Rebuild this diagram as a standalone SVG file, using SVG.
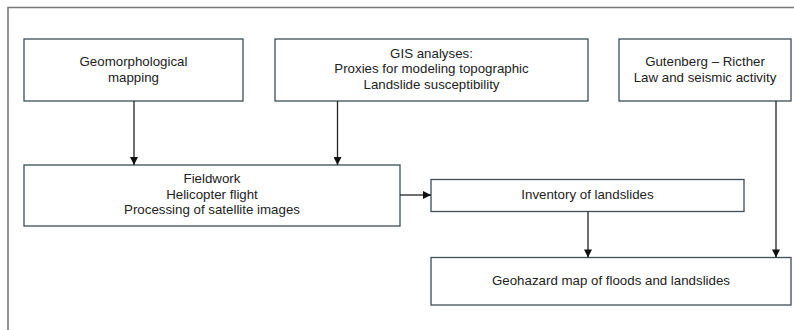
<svg xmlns="http://www.w3.org/2000/svg" width="794" height="330" viewBox="0 0 794 330">
<style>
.box{fill:#fff;stroke:#3f4f55;stroke-width:1.3}
.t{font-family:"Liberation Sans",Arial,sans-serif;font-size:13.3px;fill:#222;text-anchor:middle}
.c{stroke:#222;stroke-width:1.3;fill:none}
</style>
<defs>
<marker id="ah" viewBox="0 0 10 10" refX="10" refY="5" markerWidth="9" markerHeight="8" markerUnits="userSpaceOnUse" orient="auto">
<path d="M0,0 L10,5 L0,10 Z" fill="#111"/>
</marker>
</defs>
<rect width="794" height="330" fill="#fff"/>
<path d="M8,330 V7.5 H794" fill="none" stroke="#7a7a7a" stroke-width="1.6"/>
<g id="n1"><rect class="box" x="24" y="39" width="219" height="62"/>
<text class="t" x="133.5" y="66">Geomorphological</text><text class="t" x="133.5" y="82">mapping</text></g>
<g id="n2"><rect class="box" x="275" y="39" width="313" height="62"/>
<text class="t" x="431.5" y="57.5">GIS analyses:</text><text class="t" x="431.5" y="73">Proxies for modeling topographic</text><text class="t" x="431.5" y="88.5">Landslide susceptibility</text></g>
<g id="n3"><rect class="box" x="619" y="39" width="172" height="62"/>
<text class="t" x="705" y="65.5">Gutenberg – Ricther</text><text class="t" x="705" y="82">Law and seismic activity</text></g>
<g id="n4"><rect class="box" x="24" y="165" width="376" height="61"/>
<text class="t" x="212" y="183">Fieldwork</text><text class="t" x="212" y="198.5">Helicopter flight</text><text class="t" x="212" y="214">Processing of satellite images</text></g>
<g id="n5"><rect class="box" x="431" y="179.5" width="313" height="32"/>
<text class="t" x="587.5" y="198.5">Inventory of landslides</text></g>
<g id="n6"><rect class="box" x="431" y="257.5" width="360" height="47.5"/>
<text class="t" x="611" y="284.5">Geohazard map of floods and landslides</text></g>
<g id="connectors">
<path class="c" d="M134,101 V165" marker-end="url(#ah)"/>
<path class="c" d="M337.5,101 V165" marker-end="url(#ah)"/>
<path class="c" d="M400,195 H431" marker-end="url(#ah)"/>
<path class="c" d="M588,211.5 V257.5" marker-end="url(#ah)"/>
<path class="c" d="M776,101 V257.5" marker-end="url(#ah)"/>
</g>
</svg>
